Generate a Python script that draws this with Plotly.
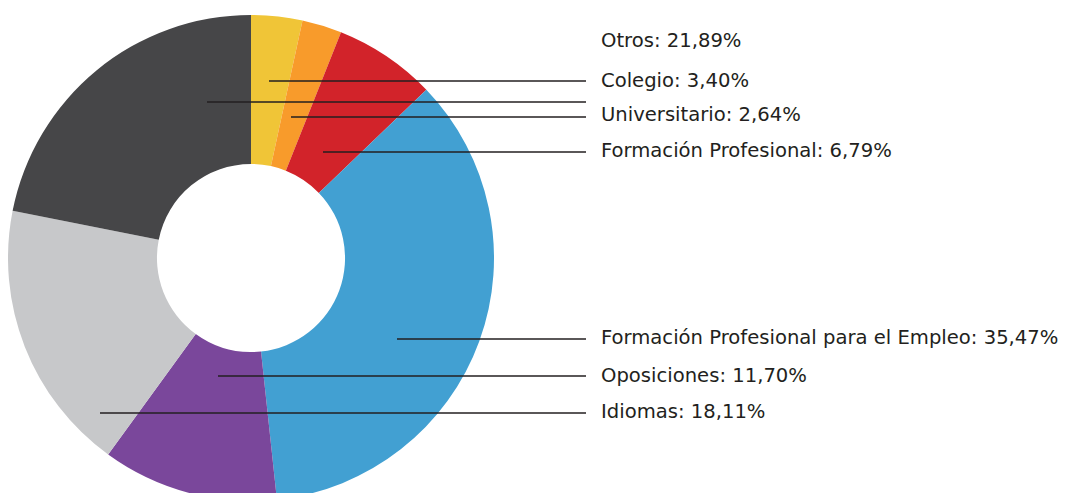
import plotly.graph_objects as go

# data
categories = ["Colegio", "Universitario", "Formación Profesional",
              "Formación Profesional para el Empleo", "Oposiciones",
              "Idiomas", "Otros"]
values = [3.40, 2.64, 6.79, 35.47, 11.70, 18.11, 21.89]
colors = ["#F0C537", "#F89B2B", "#D2232A", "#42A0D2",
          "#7A479B", "#C7C8CA", "#464648"]

W, H = 1071, 493
OFF = 8  # page body margin

# label rows (screen px y) and leader start (screen px x), in label order
label_order = ["Otros", "Colegio", "Universitario", "Formación Profesional",
               "Formación Profesional para el Empleo", "Oposiciones", "Idiomas"]
row_y = [41, 80, 115, 150, 337, 375, 411]
line_y = [102, 81, 117, 152, 339, 376, 413]
line_x0 = [207, 269, 291, 323, 397, 218, 100]
line_x1 = 586
text_x = 601


def px(x):
    return (x - OFF) / W


def py(y):
    return 1 - (y - OFF) / H


def fmt(v):
    return f"{v:.2f}".replace(".", ",") + "%"


fig = go.Figure(go.Pie(
    labels=categories,
    values=values,
    marker=dict(colors=colors, line=dict(width=0)),
    hole=0.387,
    sort=False,
    direction="clockwise",
    rotation=0,
    textinfo="none",
    hoverinfo="label+percent",
    domain=dict(x=[0, 486 / W], y=[0, 1 - 7 / H]),
    showlegend=False,
))

for i, name in enumerate(label_order):
    v = values[categories.index(name)]
    fig.add_shape(type="line", xref="paper", yref="paper",
                  x0=px(line_x0[i]), x1=px(line_x1),
                  y0=py(line_y[i]), y1=py(line_y[i]),
                  line=dict(color="#231F20", width=1.4))
    fig.add_annotation(x=px(text_x - 2), y=py(row_y[i]), xref="paper", yref="paper",
                       text=f"{name}: {fmt(v)}", showarrow=False,
                       xanchor="left", yanchor="middle",
                       font=dict(family="DejaVu Sans", size=19.6, color="#231F20"))

fig.update_layout(width=W, height=H, margin=dict(l=0, r=0, t=0, b=0),
                  paper_bgcolor="white", plot_bgcolor="white")

fig.write_html("out.html")
